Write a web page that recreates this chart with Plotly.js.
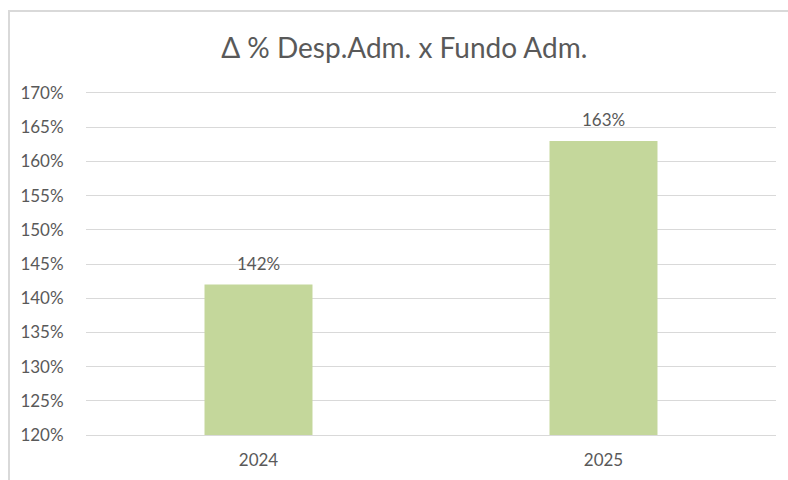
<!DOCTYPE html>
<html>
<head>
<meta charset="utf-8">
<script src="https://cdn.plot.ly/plotly-3.0.1.min.js"></script>
<style>
  html, body { margin: 0; padding: 0; background: #fff; }
  #wrap { position: relative; width: 788px; height: 480px; overflow: hidden; }
  #chart { width: 788px; height: 480px; }
  #frame { position: absolute; left: 8px; top: 10px; width: 800px; height: 500px;
           border: 2px solid #d9d9d9; pointer-events: none; box-sizing: border-box; }
</style>
</head>
<body>
<div id="wrap">
  <div id="chart"></div>
  <div id="frame"></div>
</div>
<script>
const categories = ["2024", "2025"];
const values = [142, 163];
const labels = ["142%", "163%"];
const titleText = "Δ % Desp.Adm. x Fundo Adm.";

const fontFam = "Lato, 'Open Sans', sans-serif";
const textColor = "#595959";

const trace = {
  type: "bar",
  x: categories,
  y: values,
  marker: { color: "#c4d79b" },
  hoverinfo: "skip"
};

const annotations = categories.map((c, i) => ({
  x: i, y: values[i], text: labels[i],
  xref: "x", yref: "y",
  showarrow: false, yanchor: "bottom", yshift: 9,
  font: { family: fontFam, size: 17, color: textColor }
}));

const layout = {
  width: 788, height: 480,
  margin: { l: 86, r: 12, t: 93, b: 45 },
  paper_bgcolor: "#ffffff",
  plot_bgcolor: "#ffffff",
  bargap: 0.687,
  showlegend: false,
  title: {
    text: titleText,
    x: 0.513, xref: "container", xanchor: "center",
    y: 0.9, yref: "container", yanchor: "middle",
    font: { family: fontFam, size: 28, color: textColor }
  },
  xaxis: {
    type: "category",
    categoryorder: "array", categoryarray: categories,
    showgrid: false,
    showline: true, mirror: true, linecolor: "#d9d9d9", linewidth: 1,
    ticks: "outside", ticklen: 10, tickcolor: "rgba(0,0,0,0)",
    tickfont: { family: fontFam, size: 17, color: textColor }
  },
  yaxis: {
    range: [120, 170],
    dtick: 5, tick0: 120,
    ticksuffix: "%",
    showgrid: true, gridcolor: "#d9d9d9", gridwidth: 1,
    zeroline: false, showline: false,
    ticks: "outside", ticklen: 18, tickcolor: "rgba(0,0,0,0)",
    tickfont: { family: fontFam, size: 17, color: textColor }
  },
  annotations: annotations
};

Plotly.newPlot("chart", [trace], layout, { staticPlot: true, displayModeBar: false });
</script>
</body>
</html>
